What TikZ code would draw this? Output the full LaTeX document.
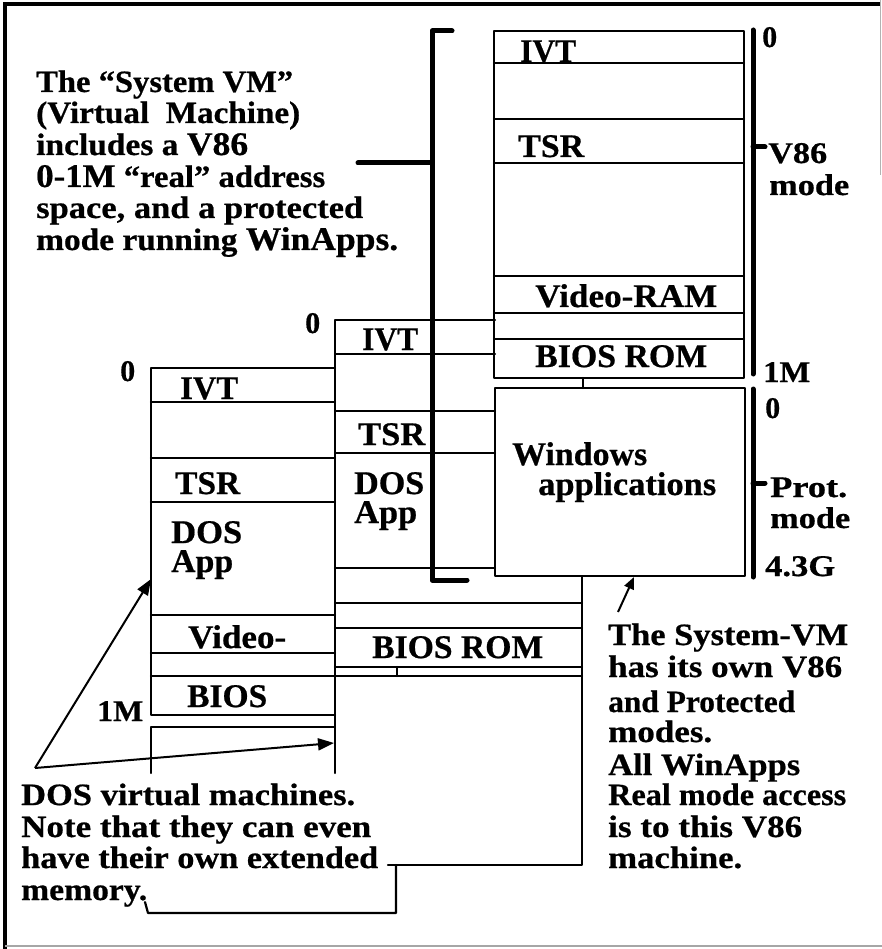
\documentclass[tikz,border=0pt]{standalone}
\usepackage{fontspec}
\setmainfont{Liberation Serif}[FakeBold=0.6]
\usetikzlibrary{arrows.meta}
\newcommand\fw[2]{\resizebox{#1pt}{\height}{#2}}
\newcommand\bigtx[1]{{\fontsize{33}{33}\selectfont #1}}
\begin{document}
\begin{tikzpicture}[x=1pt,y=-1pt,
  box/.style={line width=2.2pt, line cap=round, line join=round},
  brk/.style={line width=5pt, line cap=round, line join=round},
  arr/.style={line width=2pt, -{Triangle[length=16pt,width=12pt]}},
  sarr/.style={line width=2pt, -{Triangle[length=12pt,width=10pt]}},
  txt/.style={anchor=base west, inner sep=0pt, font=\fontsize{31}{33}\selectfont\bfseries},
  num/.style={anchor=base west, inner sep=0pt, font=\fontsize{30}{32}\selectfont\bfseries},
  lab/.style={anchor=base west, inner sep=0pt, font=\fontsize{33}{35}\selectfont\bfseries},
  lab2/.style={anchor=base west, inner sep=0pt, align=left, font=\fontsize{33}{29}\selectfont\bfseries}]
\useasboundingbox (0,0) rectangle (882,949);
% frame
\draw[line width=3.5pt] (5,949) -- (5,4) -- (880,4);
\draw[line width=1.5pt, gray!70] (5,946) -- (882,946);
\draw[line width=1pt, gray!60] (880,0) -- (880,175);

% ---- left DOS VM ----
\draw[box] (335,368) -- (151,368) -- (151,715) -- (335,715);
\foreach \yy in {402,458,502,615,653} \draw[box] (151,\yy) -- (335,\yy);
\draw[box] (151,676) -- (582,676);
\draw[box] (335,727) -- (151,727) -- (151,773);

% ---- middle DOS VM ----
\draw[box] (495,320) -- (335,320) -- (335,773);
\foreach \yy in {354,411,453,568} \draw[box] (335,\yy) -- (495,\yy);
\foreach \yy in {603,628,667} \draw[box] (335,\yy) -- (582,\yy);
\draw[box] (582,577) -- (582,865) -- (388,865);
\draw[box] (397,667) -- (397,676);
\draw[box] (396,865) -- (396,913) -- (148,913) -- (145,902);

% ---- system VM ----
\draw[box] (494,31) rectangle (744,378);
\foreach \yy in {63,119,163,276,313,339} \draw[box] (494,\yy) -- (744,\yy);
\draw[box] (583,378) -- (583,388);
\draw[box] (495,388) rectangle (745,576);

% brackets
\draw[brk] (452,31) -- (432,31) -- (432,580) -- (467,580);
\draw[brk] (358,163) -- (432,163);
\draw[brk] (753,30) -- (753,374);
\draw[brk] (753,147) -- (765,147);
\draw[brk] (753,389) -- (753,577);
\draw[brk] (753,483) -- (765,483);

% arrows
\coordinate (apex) at (35,768);
\coordinate (tipL) at (151,579);
\coordinate (tipM) at (334,743);
\draw[arr] (apex) -- (tipL);
\draw[arr] (apex) -- (tipM);
\coordinate (wtail) at (618,612);
\coordinate (wtip) at (634,577);
\draw[sarr] (wtail) -- (wtip);

% ---- texts: top left ----
\node[txt] (tl1) at (36,92) {\fw{257}{The “System VM”}};
\node[txt] (tl2) at (36,123) {\fw{264}{(Virtual \ Machine)}};
\node[txt] (tl3) at (36,155) {\fw{212}{includes a \bigtx{V86}}};
\node[txt] (tl4) at (36,187) {\fw{289}{\bigtx{0-1M} “real” address}};
\node[txt] (tl5) at (36,218) {\fw{327}{space, and a protected}};
\node[txt] (tl6) at (36,250) {\fw{362}{mode running \bigtx{WinApps.}}};

% right text
\node[txt] (rt1) at (608,645) {\fw{240}{The System-VM}};
\node[txt] (rt2) at (608,677) {\fw{234}{has its own V86}};
\node[txt] (rt3) at (608,712) {\fw{187}{and Protected}};
\node[txt] (rt4) at (608,742) {\fw{104}{modes.}};
\node[txt] (rt5) at (608,775) {\fw{192}{All WinApps}};
\node[txt] (rt6) at (608,805) {\fw{238}{Real mode access}};
\node[txt] (rt7) at (608,837) {\fw{194}{is to this V86}};
\node[txt] (rt8) at (608,868) {\fw{134}{machine.}};

% bottom left text
\node[txt] (bl1) at (21,805) {\fw{334}{DOS virtual machines.}};
\node[txt] (bl2) at (21,837) {\fw{350}{Note that they can even}};
\node[txt] (bl3) at (21,868) {\fw{357}{have their own extended}};
\node[txt] (bl4) at (21,900) {\fw{126}{memory.}};

% system box labels
\node[lab] (sIVT) at (520,62) {\fw{56}{IVT}};
\node[lab] (sTSR) at (518,157) {\fw{66}{TSR}};
\node[lab] (sVid) at (535,307) {\fw{182}{Video-RAM}};
\node[lab] (sBIOS) at (535,367) {\fw{172}{BIOS ROM}};
\node[lab] (sWin) at (512,465) {\fw{135}{Windows}};
\node[lab] (sApp) at (538,495) {\fw{178}{applications}};

% middle box labels
\node[num] (m0) at (305,333) {0};
\node[lab] (mIVT) at (362,350) {\fw{56}{IVT}};
\node[lab] (mTSR) at (358,445) {\fw{67}{TSR}};
\node[lab2] (mDOS) at (354,523) {\fw{70}{DOS}\\\fw{63}{App}};
\node[lab] (mBIOS) at (372,658) {\fw{171}{BIOS ROM}};

% left box labels
\node[num] (l0) at (120,381) {0};
\node[lab] (lIVT) at (180,399) {\fw{58}{IVT}};
\node[lab] (lTSR) at (175,494) {\fw{65}{TSR}};
\node[lab2] (lDOS) at (171,572) {\fw{71}{DOS}\\\fw{62}{App}};
\node[lab] (lVid) at (188,648) {\fw{98}{Video-}};
\node[lab] (lBIOS) at (187,707) {\fw{80}{BIOS}};
\node[num] (l1M) at (97,721) {\fw{46}{1M}};

% right scale labels
\node[num] (r0a) at (762,47) {0};
\node[num] (rV86) at (768,163) {\fw{59}{V86}};
\node[num] (rmode1) at (769,195) {\fw{80}{mode}};
\node[num] (r1M) at (763,382) {\fw{47}{1M}};
\node[num] (r0b) at (765,418) {0};
\node[num] (rProt) at (770,497) {\fw{77}{Prot.}};
\node[num] (rmode2) at (770,528) {\fw{80}{mode}};
\node[num] (r43G) at (765,576) {\fw{70}{4.3G}};
\end{tikzpicture}
\end{document}
